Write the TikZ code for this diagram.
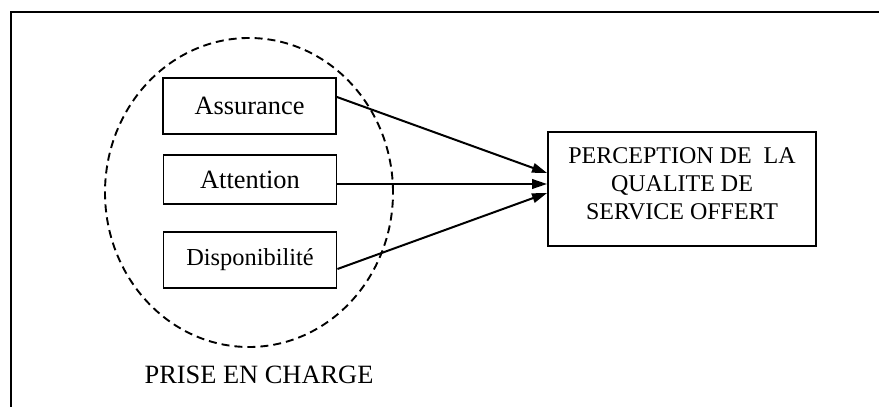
\documentclass[tikz,border=0pt]{standalone}
\usepackage{fontspec}
\setmainfont{Liberation Serif}
\usetikzlibrary{arrows.meta,shapes.geometric}
\begin{document}
\begin{tikzpicture}[x=0.5pt,y=-0.5pt,
  factor/.style={draw,line width=0.95pt,fill=white,minimum width=86.5pt,inner sep=0pt,font=\fontsize{13.2}{15}\selectfont},
  link/.style={line width=1pt,-{Triangle[length=7.5pt,width=4.8pt]}},
  group/.style={ellipse,draw,line width=0.95pt,dash pattern=on 4pt off 2.5pt,minimum width=144pt,minimum height=154.5pt,inner sep=0pt}]
\useasboundingbox (0,0) rectangle (879,407);
\begin{scope}
\clip (0,0) rectangle (879,407);
\draw[line width=1pt] (11,12) rectangle (900,430);
\end{scope}
\node[group] (grp) at (249,192.5) {};
\node[factor, minimum height=28pt] (as) at (249.5,106) {Assurance};
\node[factor, minimum height=24.5pt] (at) at (250,179.5) {Attention};
\node[factor, minimum height=28pt, font=\fontsize{12.2}{14}\selectfont] (di) at (250,260) {Disponibilité};
\node[draw, line width=0.95pt, minimum width=134pt, minimum height=57pt, inner sep=0pt] (pq) at (682,189) {};
\node[align=center, inner sep=0pt, font=\fontsize{12}{14}\selectfont] (pqt) at (682,184) {PERCEPTION DE\ \ LA\\QUALITE DE\\SERVICE OFFERT};
\node[anchor=base, inner sep=0pt, font=\fontsize{13.2}{15}\selectfont] (pc) at (259,383) {PRISE EN CHARGE};
\draw[link] ([yshift=4.5pt]as.east) -- ([yshift=8pt]pq.west);
\draw[link] ([yshift=-2.25pt]at.east) -- ([yshift=2.5pt]pq.west);
\draw[link] ([yshift=-4.5pt]di.east) -- ([yshift=-2pt]pq.west);
\end{tikzpicture}
\end{document}
